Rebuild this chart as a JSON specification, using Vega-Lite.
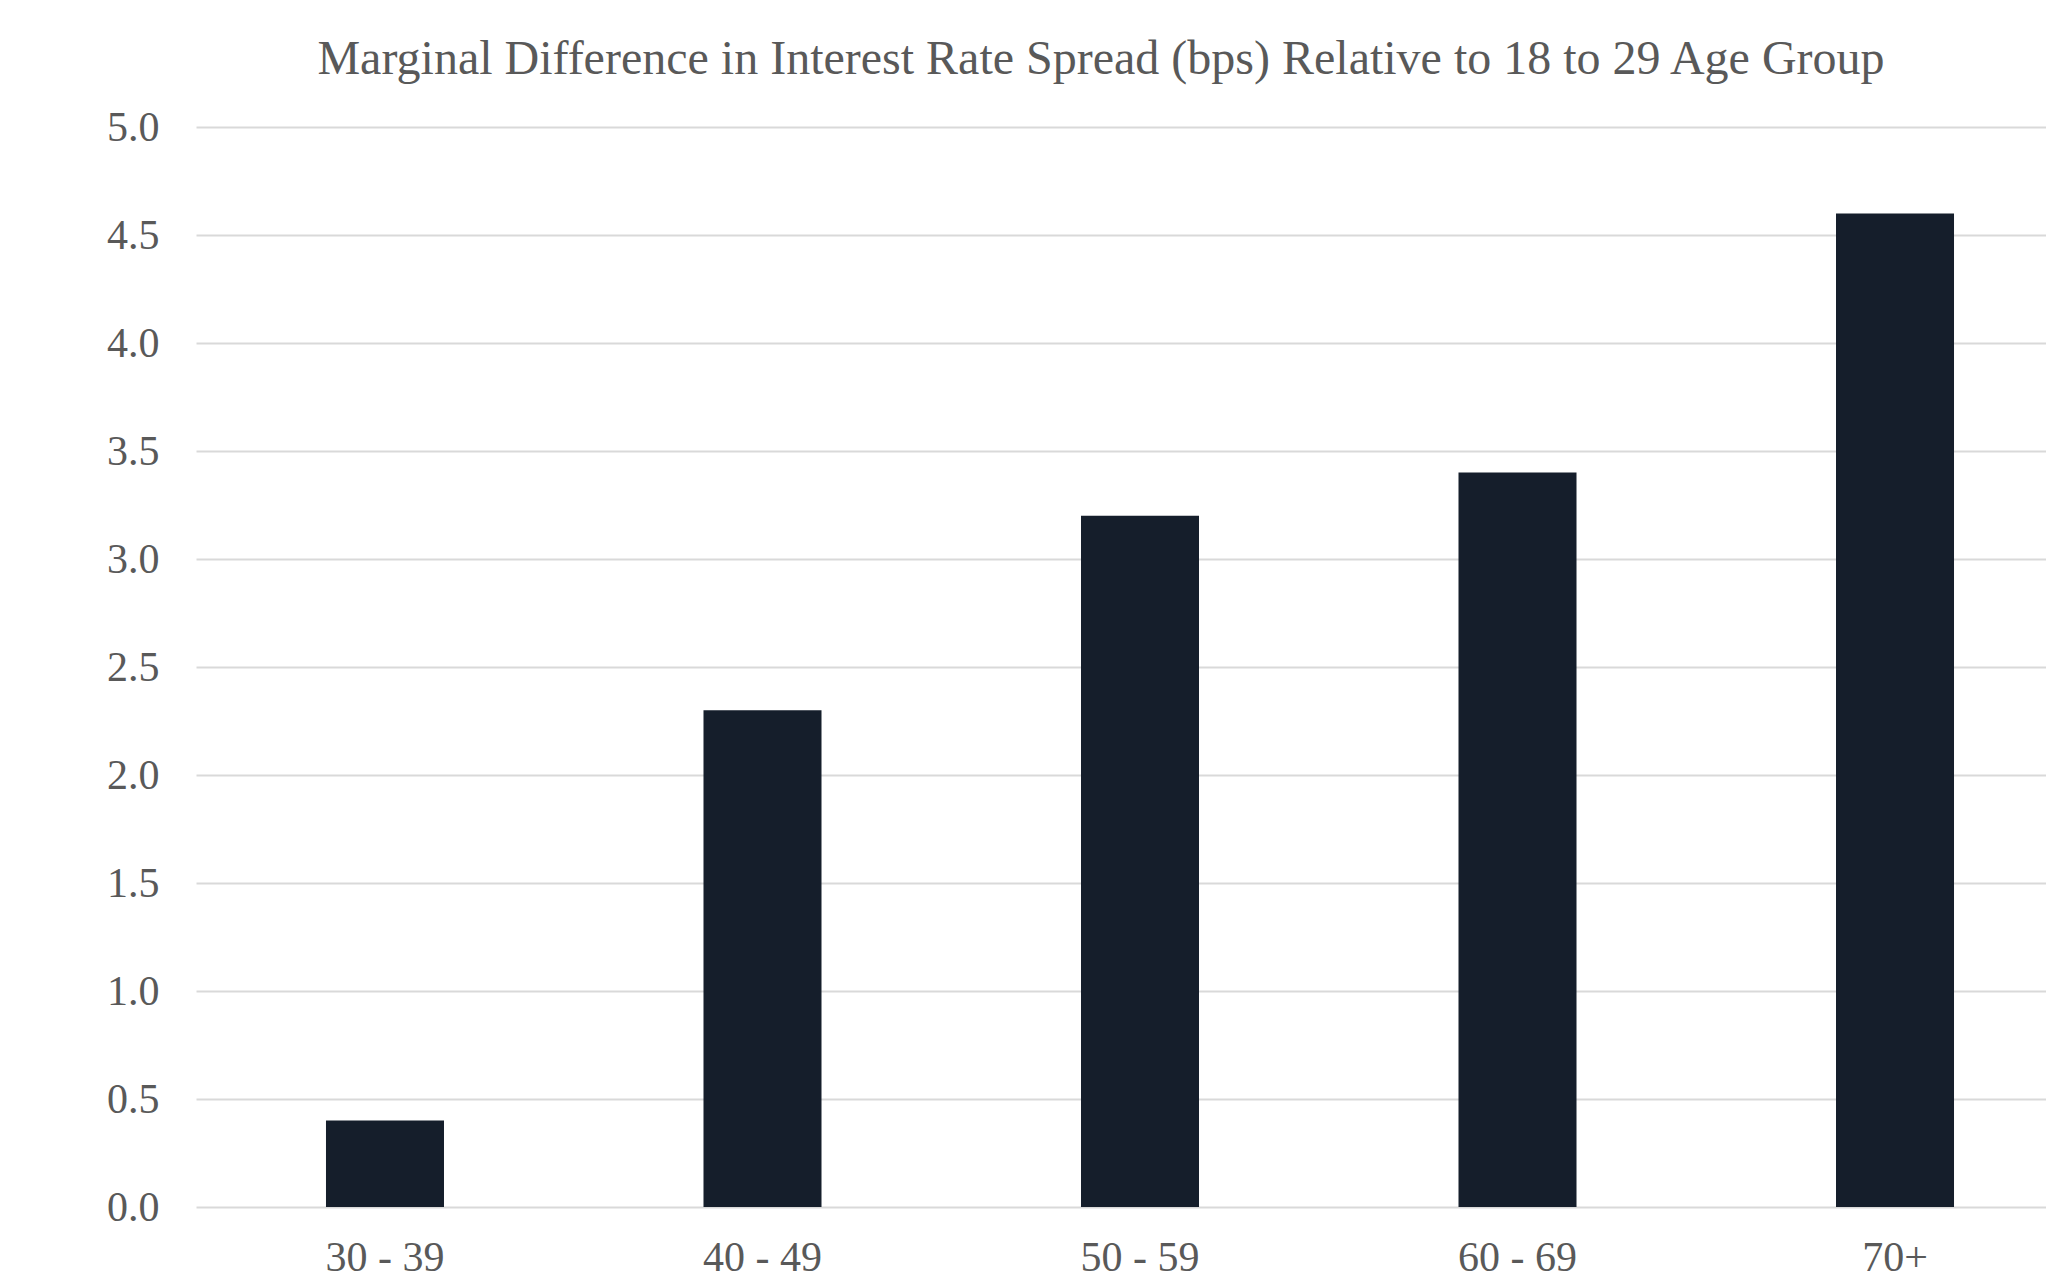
{
  "$schema": "https://vega.github.io/schema/vega-lite/v6.json",
  "autosize": "none",
  "width": 1850,
  "height": 1080,
  "padding": {"left": 196, "top": 127, "right": 0, "bottom": 80},
  "background": "white",
  "title": {
    "text": "Marginal Difference in Interest Rate Spread (bps) Relative to 18 to 29 Age Group",
    "font": "Liberation Serif",
    "fontSize": 48,
    "fontWeight": "normal",
    "color": "#595959",
    "anchor": "middle",
    "dx": -20,
    "offset": 22
  },
  "data": {
    "values": [
      {"age": "30 - 39", "spread": 0.4},
      {"age": "40 - 49", "spread": 2.3},
      {"age": "50 - 59", "spread": 3.2},
      {"age": "60 - 69", "spread": 3.4},
      {"age": "70+", "spread": 4.6}
    ]
  },
  "mark": {"type": "bar", "color": "#151e2b"},
  "encoding": {
    "x": {
      "field": "age",
      "type": "nominal",
      "sort": null,
      "scale": {"paddingInner": 0.6874, "paddingOuter": 0.294, "align": 0.5856},
      "axis": {
        "title": null,
        "labelAngle": 0,
        "labelFont": "Liberation Serif",
        "labelFontSize": 42,
        "labelColor": "#595959",
        "labelPadding": 30,
        "ticks": false,
        "domain": false,
        "grid": false
      }
    },
    "y": {
      "field": "spread",
      "type": "quantitative",
      "scale": {"domain": [0, 5]},
      "axis": {
        "title": null,
        "values": [0, 0.5, 1, 1.5, 2, 2.5, 3, 3.5, 4, 4.5, 5],
        "format": ".1f",
        "labelFont": "Liberation Serif",
        "labelFontSize": 42,
        "labelColor": "#595959",
        "labelPadding": 37,
        "ticks": false,
        "domain": false,
        "grid": true,
        "gridColor": "#d9d9d9",
        "gridWidth": 2
      }
    }
  },
  "config": {"view": {"stroke": null}}
}
